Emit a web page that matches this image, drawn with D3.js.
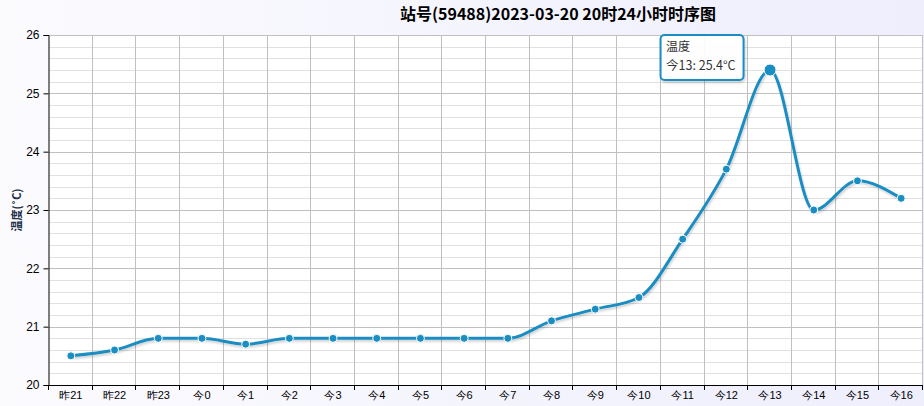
<!DOCTYPE html>
<html><head><meta charset="utf-8">
<script src="https://cdn.jsdelivr.net/npm/d3@7/dist/d3.min.js"></script>
<style>
html,body{margin:0;padding:0;background:#fff;}
svg{display:block;font-family:"Microsoft YaHei","Noto Sans CJK SC","DejaVu Sans",sans-serif;}
</style></head>
<body>
<svg id="chart" width="924" height="406"></svg>
<script>
const categories = ["昨21","昨22","昨23","今0","今1","今2","今3","今4","今5","今6","今7","今8","今9","今10","今11","今12","今13","今14","今15","今16"];
const temps = [20.5,20.6,20.8,20.8,20.7,20.8,20.8,20.8,20.8,20.8,20.8,21.1,21.3,21.5,22.5,23.7,25.4,23.0,23.5,23.2];
const yTicks = [20,21,22,23,24,25,26];
const titleText = "站号(59488)2023-03-20 20时24小时时序图";
const yLabel = "温度(˚C)";
const seriesName = "温度";
const highlightIndex = 16;

const W = 924, H = 406;
const m = {left:49, right:1, top:35, bottom:21};
const svg = d3.select("#chart");

const defs = svg.append("defs");
const bg = defs.append("linearGradient").attr("id","bg").attr("x1","0").attr("y1","0").attr("x2","1").attr("y2","0");
bg.append("stop").attr("offset","0").attr("stop-color","#fbfbfe");
bg.append("stop").attr("offset","1").attr("stop-color","#eeeefd");
const sh = defs.append("filter").attr("id","shadow").attr("x","-5%").attr("y","-5%").attr("width","110%").attr("height","120%");
sh.append("feGaussianBlur").attr("in","SourceAlpha").attr("stdDeviation","1");
sh.append("feOffset").attr("dx","1").attr("dy","1.5").attr("result","b");
sh.append("feComponentTransfer").append("feFuncA").attr("type","linear").attr("slope","0.18");
const mg = sh.append("feMerge"); mg.append("feMergeNode"); mg.append("feMergeNode").attr("in","SourceGraphic");

svg.append("rect").attr("width",W).attr("height",H).attr("fill","url(#bg)");

const x = d3.scaleBand().domain(categories).range([m.left, W - m.right]);
const y = d3.scaleLinear().domain([20,26]).range([H - m.bottom, m.top]);

svg.append("rect").attr("x",m.left).attr("y",m.top).attr("width",W-m.right-m.left).attr("height",H-m.bottom-m.top).attr("fill","#fff");

// minor gridlines
const minor = d3.range(20,26.001,0.2).filter(v => Math.abs(v-Math.round(v))>1e-6);
svg.append("g").selectAll("line").data(minor).join("line")
  .attr("x1",m.left).attr("x2",W-m.right)
  .attr("y1",d=>Math.round(y(d))+0.5).attr("y2",d=>Math.round(y(d))+0.5)
  .attr("stroke","#e0e0e0").attr("stroke-width",1);
// major gridlines
svg.append("g").selectAll("line").data(yTicks).join("line")
  .attr("x1",m.left).attr("x2",W-m.right)
  .attr("y1",d=>Math.round(y(d))+0.5).attr("y2",d=>Math.round(y(d))+0.5)
  .attr("stroke","#c0c0c0").attr("stroke-width",1);
// vertical gridlines at band boundaries
const bounds = categories.map(c => x(c)).concat([x(categories[categories.length-1]) + x.bandwidth()]);
svg.append("g").selectAll("line").data(bounds.slice(1)).join("line")
  .attr("x1",d=>Math.round(d)-0.5).attr("x2",d=>Math.round(d)-0.5)
  .attr("y1",m.top).attr("y2",H-m.bottom)
  .attr("stroke","#c0c0c0").attr("stroke-width",1);

// axes
const yAxis = d3.axisLeft(y).tickValues(yTicks).tickSize(5).tickPadding(4).tickFormat(d3.format("d"));
const gy = svg.append("g").attr("transform",`translate(${m.left - 0.5},0)`).call(yAxis);
gy.select(".domain").attr("stroke","#000");
gy.selectAll(".tick line").attr("stroke","#000");
gy.selectAll("text").attr("font-size",12).attr("fill","#000");

const xAxis = d3.axisBottom(x).tickSize(0).tickPadding(6);
const gx = svg.append("g").attr("transform",`translate(0,${H - m.bottom + 0.5})`).call(xAxis);
gx.select(".domain").attr("stroke","#000").attr("d",`M${m.left},0H${W-m.right}`);
gx.selectAll("text").attr("font-size",11).attr("fill","#000");
svg.append("g").selectAll("line").data(bounds).join("line")
  .attr("x1",d=>Math.round(d)-0.5).attr("x2",d=>Math.round(d)-0.5)
  .attr("y1",H-m.bottom).attr("y2",H-m.bottom+5)
  .attr("stroke","#000");

// line
const pts = temps.map((v,i)=>[x(categories[i]) + x.bandwidth()/2, y(v)]);
const line = d3.line().curve(d3.curveMonotoneX);
svg.append("path").attr("d",line(pts)).attr("fill","none")
  .attr("stroke","#1a8dc2").attr("stroke-width",3).attr("filter","url(#shadow)");
svg.append("g").selectAll("circle").data(pts).join("circle")
  .attr("cx",d=>d[0]).attr("cy",d=>d[1]).attr("r",(d,i)=>i===highlightIndex?6:4)
  .attr("fill","#1a8dc2").attr("stroke","#fff").attr("stroke-width",1);

// title
svg.append("text").attr("x",558).attr("y",20).attr("text-anchor","middle")
  .attr("font-size",16).attr("font-weight","bold").attr("fill","#000").text(titleText);

// y label
svg.append("text").attr("transform","translate(21,210) rotate(-90)").attr("text-anchor","middle")
  .attr("font-size",11).attr("font-weight","bold").attr("fill","#1c2e48").text(yLabel);

// tooltip
const tp = pts[highlightIndex];
const tg = svg.append("g").attr("transform",`translate(${tp[0]-110},${35})`);
tg.append("rect").attr("x",0.5).attr("y",0).attr("width",83).attr("height",45).attr("rx",4)
  .attr("fill","rgba(255,255,255,0.92)").attr("stroke","#1a8dc2").attr("stroke-width",2).attr("filter","url(#shadow)");
tg.append("text").attr("x",6).attr("y",16).attr("font-size",12).attr("fill","#333").text(seriesName);
tg.append("text").attr("x",6).attr("y",35).attr("font-size",12.5).attr("fill","#333")
  .text(`${categories[highlightIndex]}: ${temps[highlightIndex]}°C`);
</script>
</body></html>
